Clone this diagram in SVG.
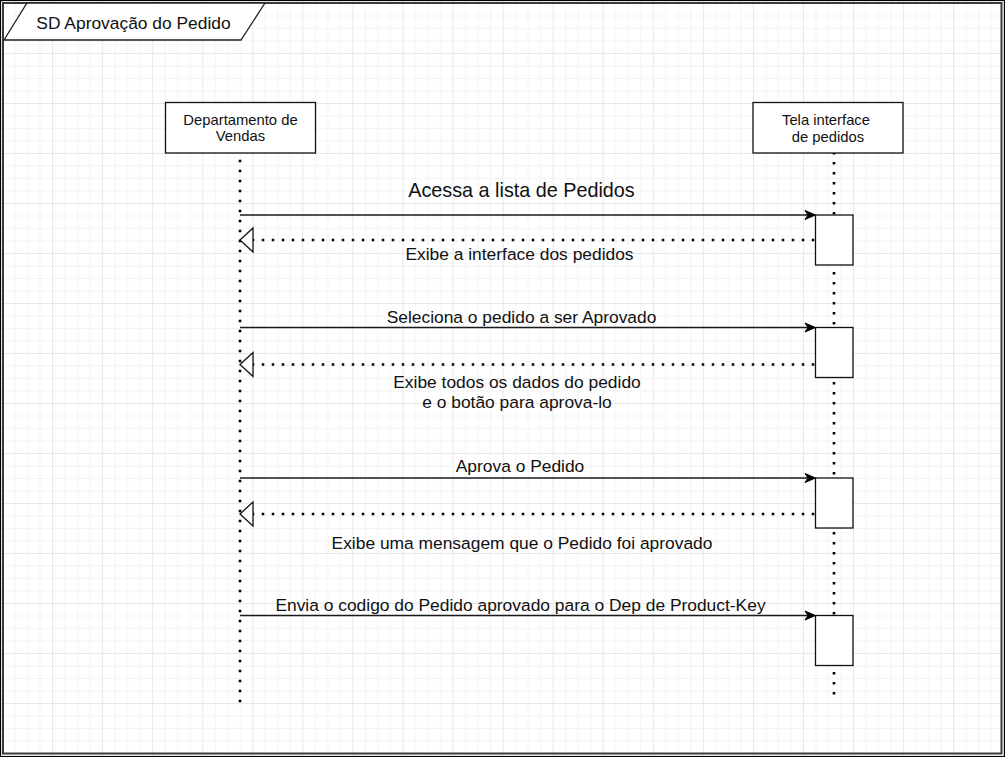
<svg xmlns="http://www.w3.org/2000/svg" width="1005" height="757" viewBox="0 0 1005 757">
<style>
.txt{font-family:"Liberation Sans",Arial,sans-serif;fill:#111;text-anchor:middle}
.node{font-size:14.8px}
.lbl{font-size:17.4px}
.box{fill:#fff;stroke:#111;stroke-width:1.3}
.life{stroke:#000;stroke-width:2.6;stroke-dasharray:2.5 7.5;fill:none}
.msg{stroke:#1a1a1a;stroke-width:1.4;fill:none}
.ret{stroke:#000;stroke-width:2.6;stroke-dasharray:2.5 7.5;fill:none}
.head{fill:#000;stroke:#000;stroke-width:1}
.open{fill:#fff;stroke:#111;stroke-width:1.3}
</style>
<defs>
<pattern id="grid" patternUnits="userSpaceOnUse" x="2" y="3" width="50.06" height="50">
<rect x="0" y="0" width="50.06" height="50" fill="#fff"/>
<rect x="12.5" y="0" width="1" height="50" fill="#f4f4f4"/>
<rect x="25" y="0" width="1" height="50" fill="#f4f4f4"/>
<rect x="37.5" y="0" width="1" height="50" fill="#f4f4f4"/>
<rect x="0" y="12.5" width="50.06" height="1" fill="#f4f4f4"/>
<rect x="0" y="25" width="50.06" height="1" fill="#f4f4f4"/>
<rect x="0" y="37.5" width="50.06" height="1" fill="#f4f4f4"/>
<rect x="0" y="0" width="1" height="50" fill="#e8e8e8"/>
<rect x="0" y="0" width="50.06" height="1" fill="#e8e8e8"/>
</pattern>
</defs>
<rect x="0" y="0" width="1005" height="757" fill="url(#grid)"/>
<g id="frame">
<rect x="3" y="3" width="998.5" height="750.5" fill="none" stroke="#3a3a3a" stroke-width="2"/>
<rect x="0.5" y="0.5" width="1004" height="756" fill="none" stroke="#000" stroke-width="1.2"/>
<polygon points="27,3 265,3 241,40 4,40" fill="#fff" stroke="#222" stroke-width="1.3"/>
<text class="txt lbl" x="133.5" y="28.5">SD Aprovação do Pedido</text>
</g>
<g id="lifelines">
<line class="life" x1="240" y1="159.75" x2="240" y2="703"/>
<line class="life" x1="834" y1="152" x2="834" y2="701"/>
</g>
<g id="connectors">
<line class="msg" x1="240" y1="215" x2="808" y2="215"/>
<polygon class="head" points="815.5,215 805,210.5 808,215 805,219.5"/>
<text class="txt" style="font-size:19.8px" x="521.5" y="197">Acessa a lista de Pedidos</text>
<line class="ret" x1="251.75" y1="240" x2="815" y2="240"/>
<polygon class="open" points="240,240 253,228 253,252"/>
<text class="txt lbl" x="519.5" y="260">Exibe a interface dos pedidos</text>
<line class="msg" x1="240" y1="327.5" x2="808" y2="327.5"/>
<polygon class="head" points="815.5,327.5 805,323 808,327.5 805,332"/>
<text class="txt lbl" x="521.5" y="323">Seleciona o pedido a ser Aprovado</text>
<line class="ret" x1="251.75" y1="364.5" x2="815" y2="364.5"/>
<polygon class="open" points="240,364.5 253,352.5 253,376.5"/>
<text class="txt lbl" x="517" y="387.5">Exibe todos os dados do pedido</text>
<text class="txt lbl" x="517" y="407.5">e o botão para aprova-lo</text>
<line class="msg" x1="240" y1="478" x2="808" y2="478"/>
<polygon class="head" points="815.5,478 805,473.5 808,478 805,482.5"/>
<text class="txt lbl" x="520" y="472">Aprova o Pedido</text>
<line class="ret" x1="251.75" y1="514" x2="815" y2="514"/>
<polygon class="open" points="240,514 253,502 253,526"/>
<text class="txt lbl" x="522" y="548.5">Exibe uma mensagem que o Pedido foi aprovado</text>
<line class="msg" x1="240" y1="615.5" x2="808" y2="615.5"/>
<polygon class="head" points="815.5,615.5 805,611 808,615.5 805,620"/>
<text class="txt lbl" x="520.5" y="611">Envia o codigo do Pedido aprovado para o Dep de Product-Key</text>
</g>
<g id="dep-vendas">
<rect class="box" x="165.5" y="102.5" width="150" height="50.5"/>
<text class="txt node" x="240.5" y="125">Departamento de</text>
<text class="txt node" x="240.5" y="141">Vendas</text>
</g>
<g id="tela-interface">
<rect class="box" x="753" y="102.5" width="150" height="50.5"/>
<text class="txt node" x="826" y="124.5">Tela interface</text>
<text class="txt node" x="828" y="141.5">de pedidos</text>
</g>
<g id="act1"><rect class="box" x="815.5" y="215" width="37.5" height="50"/></g>
<g id="act2"><rect class="box" x="815.5" y="327.5" width="37.5" height="50"/></g>
<g id="act3"><rect class="box" x="815.5" y="478" width="37.5" height="50"/></g>
<g id="act4"><rect class="box" x="815.5" y="615.5" width="37.5" height="50"/></g>
</svg>
